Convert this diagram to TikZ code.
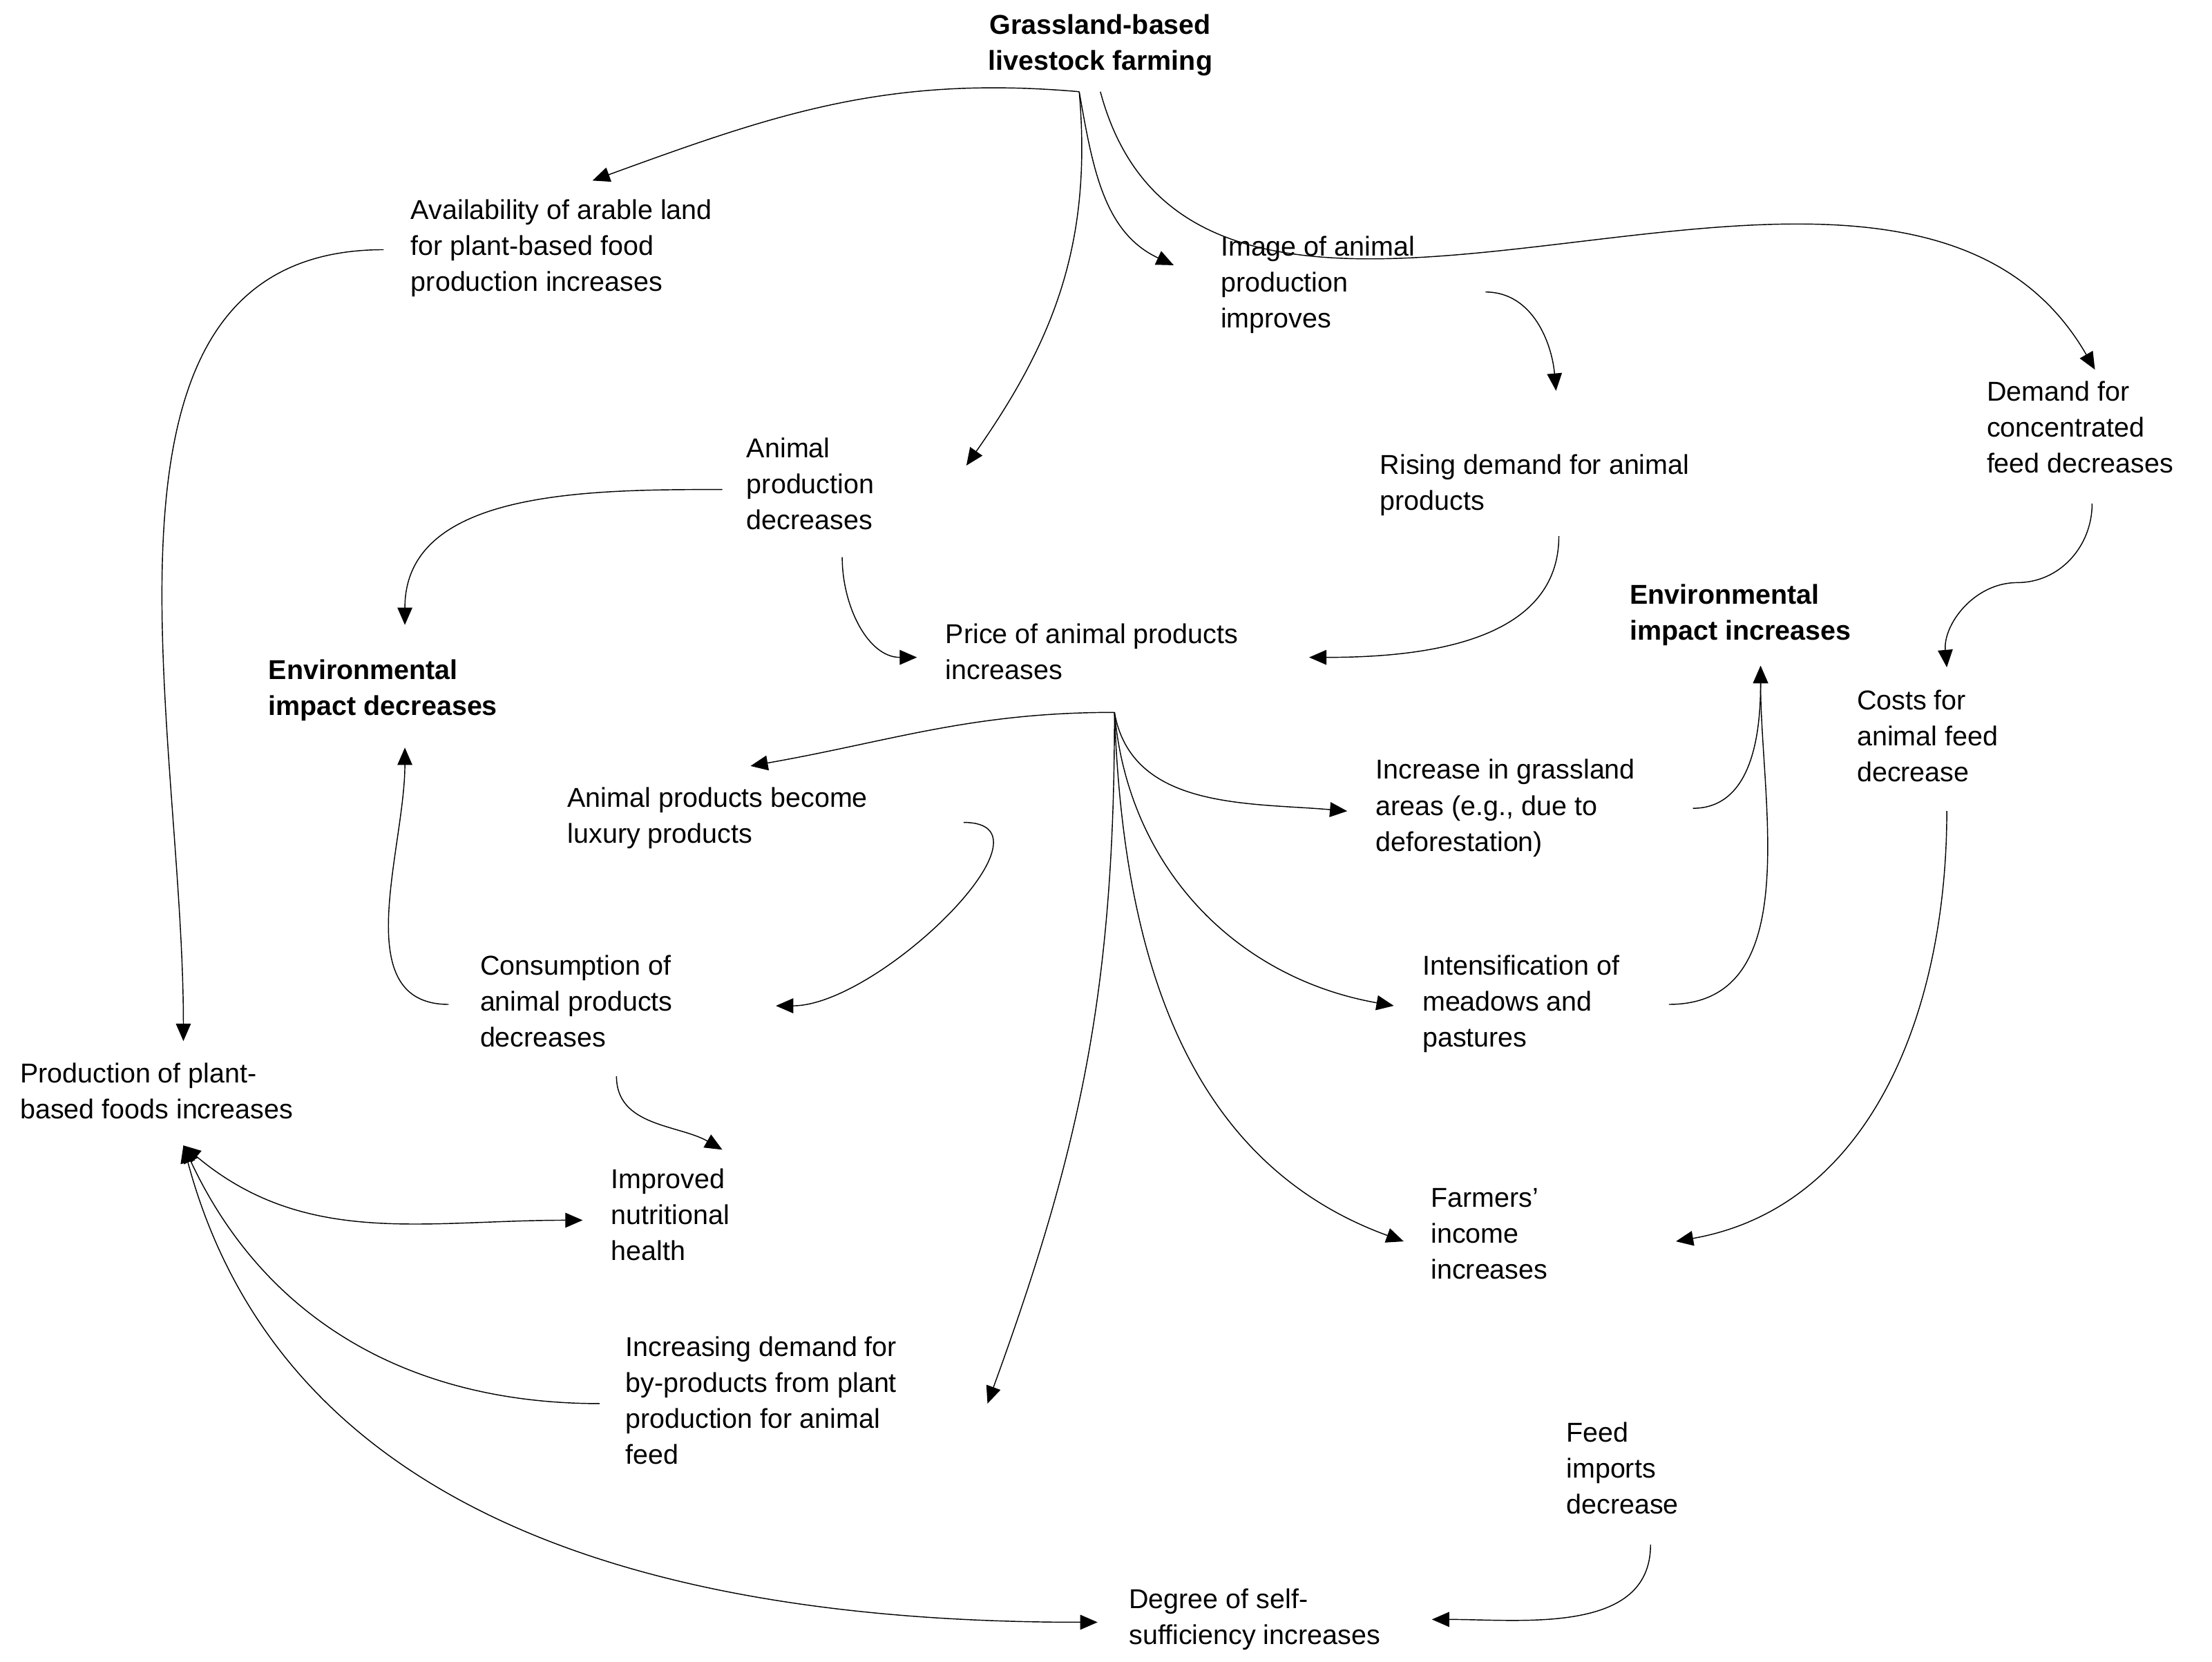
\documentclass[tikz,border=0pt]{standalone}
\usepackage{fontspec}
\setmainfont{Liberation Sans}
\usetikzlibrary{arrows.meta}

\tikzset{
  txt/.style={anchor=north west, inner sep=0pt, align=left, font=\fontsize{11}{14.5}\selectfont},
  bold/.style={txt, font=\fontsize{11}{14.5}\selectfont\bfseries},
  arr/.style={draw=black, thin, -{Triangle[length=7pt,width=6pt]}},
  darr/.style={draw=black, thin, {Triangle[length=7pt,width=6pt]}-{Triangle[length=7pt,width=6pt]}}
}

\begin{document}
\begin{tikzpicture}[x=0.02cm,y=-0.02cm]
            \useasboundingbox (0,0) rectangle (1568,1178);

            % nodes
            \node[bold, anchor=north, align=center] (farm) at (780,10) {Grassland-based\\livestock farming};
            \node[txt] (avail) at (291,141) {Availability of arable land\\for plant-based food\\production increases};
            \node[txt] (image) at (865,167) {Image of animal\\production\\improves};
            \node[txt] (conc) at (1408,270) {Demand for\\concentrated\\feed decreases};
            \node[txt] (aprod) at (529,310) {Animal\\production\\decreases};
            \node[txt] (rising) at (978,322) {Rising demand for animal\\products};
            \node[bold] (envdec) at (190,467) {Environmental\\impact decreases};
            \node[txt] (price) at (670,442) {Price of animal products\\increases};
            \node[bold] (envinc) at (1155,414) {Environmental\\impact increases};
            \node[txt] (costs) at (1316,489) {Costs for\\animal feed\\decrease};
            \node[txt] (luxury) at (402,558) {Animal products become\\luxury products};
            \node[txt] (grass) at (975,538) {Increase in grassland\\areas (e.g., due to\\deforestation)};
            \node[txt] (cons) at (340,677) {Consumption of\\animal products\\decreases};
            \node[txt] (intens) at (1008,677) {Intensification of\\meadows and\\pastures};
            \node[txt] (plant) at (14,753) {Production of plant-\\based foods increases};
            \node[txt] (health) at (433,828) {Improved\\nutritional\\health};
            \node[txt] (income) at (1014,842) {Farmers'\\income\\increases};
            \node[txt] (byprod) at (443,947) {Increasing demand for\\by-products from plant\\production for animal\\feed};
            \node[txt] (imports) at (1110,1008) {Feed\\imports\\decrease};
            \node[txt] (self) at (800,1126) {Degree of self-\\sufficiency increases};

            % connector ends
            \coordinate (farmA) at (765,65);
            \coordinate (farmB) at (780,65);
            \coordinate (priceA) at (790,505);
            \coordinate (plantA) at (130,812);

            % connectors
            \draw[arr] (farmA) to[out=175,in=20] (420,128);
            \draw[arr] (farmA) to[out=-80,in=155] (832,188);
            \draw[arr] (farmA) to[out=-85,in=55] (685,330);
            \draw[arr] (farmB) to[out=-75,in=120] (1485,262);
            \draw[arr] (272,177) to[out=180,in=90] (130,738);
            \draw[arr] (1053,207) to[out=0,in=95] (1103,277);
            \draw[arr] (512,347) to[out=180,in=90] (287,443);
            \draw[arr] (597,395) to[out=-90,in=180] (650,466);
            \draw[arr] (1105,380) to[out=-90,in=0] (928,466);
            \draw[arr] (1483,357) to[out=-90,in=0] (1430,413) to[out=180,in=95] (1380,473);
            \draw[arr] (priceA) to[out=180,in=10] (532,543);
            \draw[arr] (priceA) to[out=-80,in=175] (955,575);
            \draw[arr] (priceA) to[out=-85,in=170] (988,713);
            \draw[arr] (priceA) to[out=-88,in=160] (995,880);
            \draw[arr] (priceA) to[out=-90,in=70] (700,995);
            \draw[arr] (683,583) to[out=0,in=0] (550,713);
            \draw[arr] (1200,573) to[out=0,in=-90] (1248,472);
            \draw[arr] (1183,712) to[out=0,in=-90] (1248,472);
            \draw[arr] (1380,575) to[out=-90,in=10] (1188,880);
            \draw[arr] (318,712) to[out=180,in=-90] (287,530);
            \draw[arr] (437,763) to[out=-90,in=150] (512,815);
            \draw[darr] (plantA) to[out=-40,in=180] (413,865);
            \draw[arr] (425,995) to[out=180,in=-65] (plantA);
            \draw[darr] (plantA) to[out=-75,in=180] (778,1150);
            \draw[arr] (1170,1095) to[out=-90,in=0] (1015,1148);

        \end{tikzpicture}
\end{document}
